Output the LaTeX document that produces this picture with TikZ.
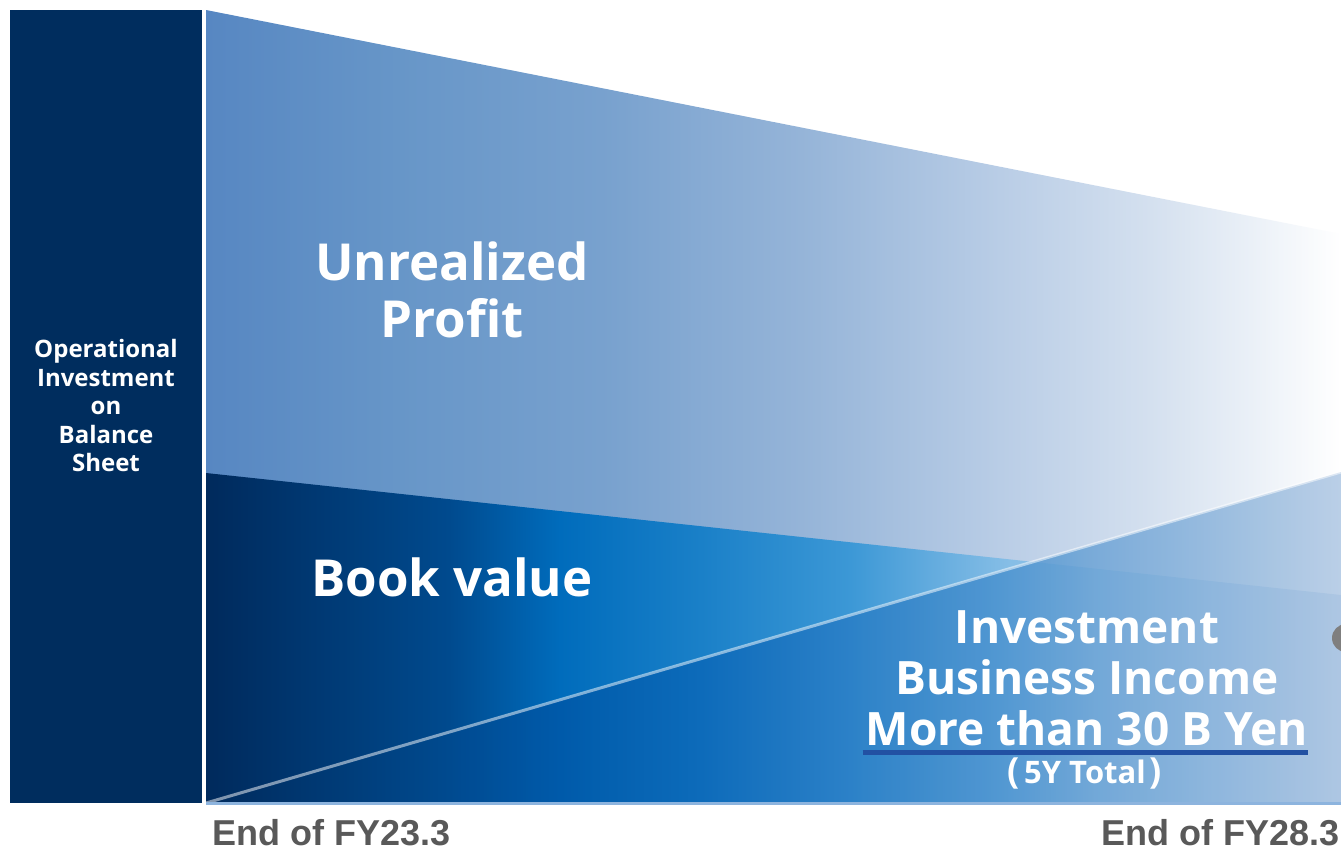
\documentclass[tikz,border=0pt]{standalone}
\usepackage{fontspec}
\setmainfont{Open Sans}
\newfontfamily\arialfont{Liberation Sans}
\definecolor{navy}{RGB}{0,45,94}
\definecolor{u0}{RGB}{87,135,194}
\definecolor{u1}{RGB}{103,150,200}
\definecolor{u2}{RGB}{120,161,206}
\definecolor{u3}{RGB}{149,180,216}
\definecolor{u4}{RGB}{185,205,230}
\definecolor{u5}{RGB}{212,224,239}
\definecolor{u6}{RGB}{234,240,247}
\definecolor{b0}{RGB}{0,42,92}
\definecolor{b1}{RGB}{0,74,142}
\definecolor{b2}{RGB}{0,108,188}
\definecolor{b3}{RGB}{26,128,200}
\definecolor{b4}{RGB}{60,152,214}
\definecolor{b5}{RGB}{108,176,224}
\definecolor{b6}{RGB}{134,190,230}
\definecolor{b7}{RGB}{168,198,228}
\definecolor{t0}{RGB}{0,42,92}
\definecolor{t1}{RGB}{0,74,144}
\definecolor{t2}{RGB}{0,88,168}
\definecolor{t3}{RGB}{11,104,184}
\definecolor{t4}{RGB}{42,126,198}
\definecolor{t5}{RGB}{74,146,207}
\definecolor{t6}{RGB}{111,165,214}
\definecolor{t7}{RGB}{175,199,227}
\definecolor{edgeblue}{RGB}{141,180,222}
\definecolor{ulblue}{RGB}{34,81,163}
\definecolor{endgray}{RGB}{89,89,89}
\definecolor{dotgray}{RGB}{127,127,127}
\pgfdeclarehorizontalshading{unrealsh}{100bp}{color(0bp)=(u0); color(25bp)=(u0); color(33.5bp)=(u1); color(42.4bp)=(u2); color(51.2bp)=(u3); color(60bp)=(u4); color(66.6bp)=(u5); color(71bp)=(u6); color(75bp)=(white); color(100bp)=(white)}
\pgfdeclarehorizontalshading{booksh}{100bp}{color(0bp)=(b0); color(25bp)=(b0); color(35.7bp)=(b1); color(40.6bp)=(b2); color(46.8bp)=(b3); color(53.4bp)=(b4); color(57.8bp)=(b5); color(60.4bp)=(b6); color(75bp)=(b7); color(100bp)=(b7)}
\pgfdeclarehorizontalshading{trish}{100bp}{color(0bp)=(t0); color(25bp)=(t0); color(35.7bp)=(t1); color(40.6bp)=(t2); color(46.8bp)=(t3); color(53.4bp)=(t4); color(60bp)=(t5); color(64.4bp)=(t6); color(75bp)=(t7); color(100bp)=(t7)}
\tikzset{
  bigtxt/.style={text=white, font=\bfseries\fontsize{51}{57}\selectfont, anchor=base, inner sep=0pt},
  midtxt/.style={text=white, font=\bfseries\fontsize{46}{51}\selectfont, anchor=base, inner sep=0pt},
  smalltxt/.style={text=white, font=\bfseries\fontsize{24}{29}\selectfont, anchor=base, inner sep=0pt},
  endtxt/.style={text=endgray, font=\arialfont\bfseries\fontsize{36}{40}\selectfont, anchor=base west, inner sep=0pt}
}
\newcommand{\bigparen}[1]{{\fontsize{36}{36}\selectfont #1}}
\begin{document}
\begin{tikzpicture}[x=1pt,y=-1pt]
\useasboundingbox (0,0) rectangle (1341,849);
\fill[white] (0,0) rectangle (1341,849);
% left box
\fill[navy] (10,10) rectangle (202,803);
% corners
\coordinate (utl) at (206,10);
\coordinate (utr) at (1341,234);
\coordinate (btl) at (206,473);
\coordinate (btr) at (1341,595);
\coordinate (bl) at (206,803);
\coordinate (br) at (1341,803);
\coordinate (ttr) at (1341,472);
\shade[shading=unrealsh] (utl) -- (utr) -- (br) -- (bl) -- cycle;
\shade[shading=booksh] (btl) -- (btr) -- (br) -- (bl) -- cycle;
\shade[shading=trish, opacity=0.85] (bl) -- (ttr) -- (br) -- cycle;
\draw[white, opacity=0.5, line width=3pt] (bl) -- (ttr);
\draw[edgeblue, line width=3pt] (bl) -- (br);
\fill[dotgray] (1346,638) circle (14);
% left texts
\node[smalltxt] (l1) at (106,357) {Operational};
\node[smalltxt] (l2) at (106,386) {Investment};
\node[smalltxt] (l3) at (106,414) {on};
\node[smalltxt] (l4) at (106,443) {Balance};
\node[smalltxt] (l5) at (106,471) {Sheet};
% big texts
\node[bigtxt] (ur1) at (452,280) {Unrealized};
\node[bigtxt] (ur2) at (452,337) {Profit};
\node[bigtxt] (bv) at (452,596) {Book value};
\node[midtxt] (inv1) at (1087,643) {Investment};
\node[midtxt] (inv2) at (1087,694) {Business Income};
\node[midtxt] (more) at (1087,745) {More than 30 B Yen};
\draw[ulblue, line width=5pt] ([xshift=-3pt,yshift=-7pt]more.base west) -- ([yshift=-7pt]more.base east);
\node[text=white, font=\bfseries\fontsize{31}{34}\selectfont, anchor=base, inner sep=0pt] (tot) at (1085,783) {\bigparen{(}\hspace{4pt}5Y Total\hspace{4pt}\bigparen{)}};
% bottom labels
\node[endtxt] (e1) at (212,845) {End of FY23.3};
\node[endtxt] (e2) at (1101,845) {End of FY28.3};
\end{tikzpicture}
\end{document}
